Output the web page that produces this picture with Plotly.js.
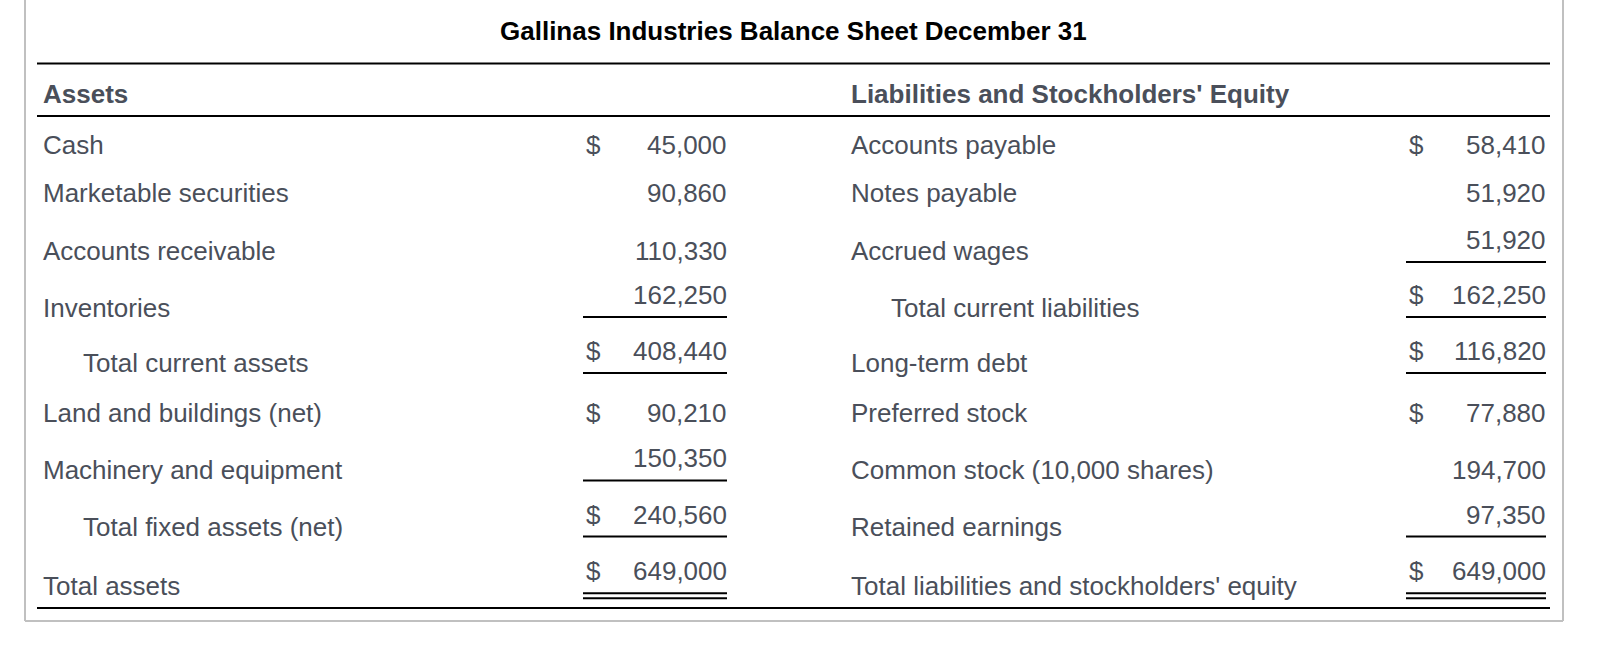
<!DOCTYPE html>
<html>
<head>
<meta charset="utf-8">
<script src="https://cdn.plot.ly/plotly-3.0.1.min.js"></script>
<style>
  html, body { margin: 0; padding: 0; background: #ffffff; }
  #chart { width: 1616px; height: 650px; }
</style>
</head>
<body>
<div id="chart"></div>
<script>
// ---------- data ----------
const chartTitle = "Gallinas Industries Balance Sheet December 31";
const assetHeader = "Assets";
const liabHeader = "Liabilities and Stockholders' Equity";

const assetItems = ["Cash", "Marketable securities", "Accounts receivable", "Inventories",
  "Total current assets", "Land and buildings (net)", "Machinery and equipment",
  "Total fixed assets (net)", "Total assets"];
const assetValues = [45000, 90860, 110330, 162250, 408440, 90210, 150350, 240560, 649000];
const assetDollar = [true, false, false, false, true, true, false, true, true];
const assetIndent = [false, false, false, false, true, false, false, true, false];

const liabItems = ["Accounts payable", "Notes payable", "Accrued wages", "Total current liabilities",
  "Long-term debt", "Preferred stock", "Common stock (10,000 shares)", "Retained earnings",
  "Total liabilities and stockholders' equity"];
const liabValues = [58410, 51920, 51920, 162250, 116820, 77880, 194700, 97350, 649000];
const liabDollar = [true, false, false, true, true, true, false, false, true];
const liabIndent = [false, false, false, true, false, false, false, false, false];

// ---------- layout (pixel-space coordinates) ----------
const W = 1616, H = 650;
const DY = -2;
const labelRowY = [146.7, 195, 253.3, 309.5, 365, 415, 472, 529, 588.3].map(v => v + DY);
const assetValY = [146.7, 195, 253.3, 297.3, 352.7, 415, 460, 517.3, 572.7].map(v => v + DY);
const liabValY  = [146.7, 195, 241.7, 297.3, 352.7, 415, 471.7, 517.3, 572.7].map(v => v + DY);
const assetRules = [317, 373, 480.5, 536.5];
const liabRules  = [262, 317, 373, 536.5];
const doubleRuleY = [593.3, 598.3];

const X = {
  leftLabel: 42, leftIndent: 82, assetDollar: 585, assetNumR: 728, assetRuleL: 583, assetRuleR: 727,
  rightLabel: 850, rightIndent: 890, liabDollar: 1408, liabNumR: 1546.5, liabRuleL: 1406, liabRuleR: 1546,
  ruleL: 37, ruleR: 1550, borderL: 25, borderR: 1563
};
const Y = { title: 30.5, titleRule: 63.5, header: 93.5, headerRule: 116, bottomRule: 608, border: 621 };

const FONT = "Liberation Sans, Arial, Helvetica, sans-serif";
const TXT = "#4a4f5a";
const FS = 26;

const fmt = v => v.toLocaleString("en-US");

const ann = [];
function addText(text, x, y, xanchor, opts) {
  opts = opts || {};
  ann.push({
    xref: "x", yref: "y", x: x, y: y, text: text, showarrow: false,
    xanchor: xanchor, yanchor: "middle", borderpad: 0,
    font: { family: FONT, size: opts.size || FS, color: opts.color || TXT }
  });
}

addText("<b>" + chartTitle + "</b>", 793, Y.title, "center", { color: "#000000" });
addText("<b>" + assetHeader + "</b>", X.leftLabel, Y.header, "left");
addText("<b>" + liabHeader + "</b>", X.rightLabel, Y.header, "left");

assetItems.forEach((t, i) => addText(t, assetIndent[i] ? X.leftIndent : X.leftLabel, labelRowY[i], "left"));
liabItems.forEach((t, i) => addText(t, liabIndent[i] ? X.rightIndent : X.rightLabel, labelRowY[i], "left"));

assetValues.forEach((v, i) => {
  addText(fmt(v), X.assetNumR, assetValY[i], "right");
  if (assetDollar[i]) addText("$", X.assetDollar, assetValY[i], "left");
});
liabValues.forEach((v, i) => {
  addText(fmt(v), X.liabNumR, liabValY[i], "right");
  if (liabDollar[i]) addText("$", X.liabDollar, liabValY[i], "left");
});

const shapes = [];
function hline(x0, x1, y, w, c) {
  shapes.push({ type: "line", xref: "x", yref: "y", x0: x0, x1: x1, y0: y, y1: y,
    line: { color: c || "#000000", width: w || 2 } });
}
function vline(x, y0, y1, w, c) {
  shapes.push({ type: "line", xref: "x", yref: "y", x0: x, x1: x, y0: y0, y1: y1,
    line: { color: c, width: w } });
}
hline(X.ruleL, X.ruleR, Y.titleRule, 2);
hline(X.ruleL, X.ruleR, Y.headerRule, 2);
hline(X.ruleL, X.ruleR, Y.bottomRule, 2);
assetRules.forEach(y => hline(X.assetRuleL, X.assetRuleR, y, 2));
liabRules.forEach(y => hline(X.liabRuleL, X.liabRuleR, y, 2));
doubleRuleY.forEach(y => { hline(X.assetRuleL, X.assetRuleR, y, 2); hline(X.liabRuleL, X.liabRuleR, y, 2); });
// outer frame (top edge is off-canvas in the reference)
vline(X.borderL, -5, Y.border, 2, "#c0c0c0");
vline(X.borderR, -5, Y.border, 2, "#c0c0c0");
hline(X.borderL, X.borderR, Y.border, 2, "#c0c0c0");

const traces = [{ type: "scatter", mode: "markers", x: [], y: [], hoverinfo: "skip", showlegend: false }];

Plotly.newPlot("chart", traces, {
  width: W, height: H,
  margin: { l: 0, r: 0, t: 0, b: 0, pad: 0 },
  paper_bgcolor: "#ffffff", plot_bgcolor: "#ffffff",
  xaxis: { range: [0, W], visible: false, fixedrange: true },
  yaxis: { range: [H, 0], visible: false, fixedrange: true },
  showlegend: false,
  annotations: ann,
  shapes: shapes
}, { staticPlot: true, displayModeBar: false });
</script>
</body>
</html>
